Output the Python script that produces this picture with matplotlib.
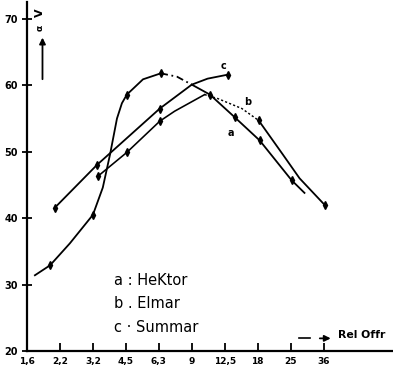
import numpy as np
import matplotlib
matplotlib.use("Agg")
import matplotlib.pyplot as plt

# x positions are steps on the (logarithmic) Rel Offr grid, 0 = 1,6 ... 9 = 36
x_ticklabels = ["1,6", "2,2", "3,2", "4,5", "6,3", "9", "12,5", "18", "25", "36"]
y_ticks = [20, 30, 40, 50, 60, 70]

# a: Hektor
a_x = [0.24, 0.70, 1.30, 2.00, 2.30, 2.52, 2.73, 2.88, 3.03, 3.52, 4.06, 4.55, 5.00, 5.55, 6.30, 7.06, 8.03, 8.42]
a_y = [31.4, 32.9, 36.2, 40.5, 44.6, 49.6, 55.0, 57.3, 58.6, 60.9, 61.8, 61.3, 60.1, 58.6, 55.2, 51.7, 45.7, 43.8]
a_marks = [1, 3, 8, 10, 13, 14, 15, 16]

# b: Elmar
b_x = [2.15, 3.03, 4.03, 4.48, 5.39, 5.79, 6.52, 7.03, 7.76, 8.27, 9.03]
b_y = [46.3, 49.9, 54.6, 56.1, 58.6, 58.0, 56.5, 54.7, 49.6, 46.0, 42.0]
b_marks = [0, 1, 2, 7, 10]

# c: Summar
c_x = [0.85, 2.12, 4.03, 5.00, 5.48, 6.09]
c_y = [41.6, 48.0, 56.5, 60.1, 61.0, 61.6]
c_marks = [0, 1, 2, 5]

fig = plt.figure(figsize=(3.93, 3.77), dpi=100)
ax = fig.add_axes([0.0687, 0.069, 0.93, 0.925])

lw = 1.3
col = "black"

# Hektor: solid, dash-dot over the top, solid again
ax.plot(a_x[:11], a_y[:11], color=col, lw=lw)
ax.plot(a_x[10:13], a_y[10:13], color=col, lw=lw, ls=(0, (4, 2, 1, 2)))
ax.plot(a_x[12:], a_y[12:], color=col, lw=lw)
ax.plot(np.array(a_x)[a_marks], np.array(a_y)[a_marks], ls="none", marker="d", ms=4, color=col)

# Elmar: dotted near its maximum
ax.plot(b_x[:5], b_y[:5], color=col, lw=lw * 0.9)
ax.plot(b_x[4:8], b_y[4:8], color=col, lw=lw * 0.8, ls=(0, (1.5, 1.5)))
ax.plot(b_x[7:], b_y[7:], color=col, lw=lw)
ax.plot(np.array(b_x)[b_marks], np.array(b_y)[b_marks], ls="none", marker="d", ms=4, color=col)

# Summar
ax.plot(c_x, c_y, color=col, lw=lw)
ax.plot(np.array(c_x)[c_marks], np.array(c_y)[c_marks], ls="none", marker="d", ms=4, color=col)

# curve letters
ax.text(5.95, 62.9, "c", fontsize=7, fontweight="bold", ha="center", va="center")
ax.text(6.7, 57.5, "b", fontsize=7, fontweight="bold", ha="center", va="center")
ax.text(6.2, 52.8, "a", fontsize=7, fontweight="bold", ha="center", va="center")

# legend written on the chart
legend_rows = ["a : HeKtor", "b . Elmar", "c · Summar"]
for i, row in enumerate(legend_rows):
    ax.text(2.65, 30.6 - i * 3.5, row, fontsize=10.5, ha="left", va="center")

ax.set_xlim(0, 11.09)
ax.set_ylim(20, 72.5)
ax.set_xticks(range(len(x_ticklabels)))
ax.set_xticklabels(x_ticklabels, fontsize=6.5, fontweight="bold")
ax.set_yticks(y_ticks)
ax.set_yticklabels([str(v) for v in y_ticks], fontsize=7, fontweight="bold")
ax.tick_params(axis="x", direction="in", length=6, width=1.3, pad=4)
ax.tick_params(axis="y", direction="inout", length=7, width=1.3, pad=3)

for s in ["top", "right"]:
    ax.spines[s].set_visible(False)
for s in ["left", "bottom"]:
    ax.spines[s].set_linewidth(1.6)

# axis captions
ax.text(0.40, 71.0, "V", fontsize=8, fontweight="bold", rotation=90, ha="center", va="center")
ax.text(0.40, 68.6, "α", fontsize=6.5, fontweight="bold", rotation=90, ha="center", va="center")
ax.annotate("", xy=(0.47, 67.6), xytext=(0.47, 60.5),
            arrowprops=dict(arrowstyle="-|>", color=col, lw=1.3, mutation_scale=9))
ax.plot([8.25, 8.6], [22.0, 22.0], color=col, lw=1.2)
ax.annotate("", xy=(9.3, 21.9), xytext=(8.8, 21.9),
            arrowprops=dict(arrowstyle="-|>", color=col, lw=1.3, mutation_scale=9))
ax.text(9.45, 22.4, "Rel Offr", fontsize=7.8, fontweight="bold", ha="left", va="center")

fig.savefig("out.png", dpi=100)
